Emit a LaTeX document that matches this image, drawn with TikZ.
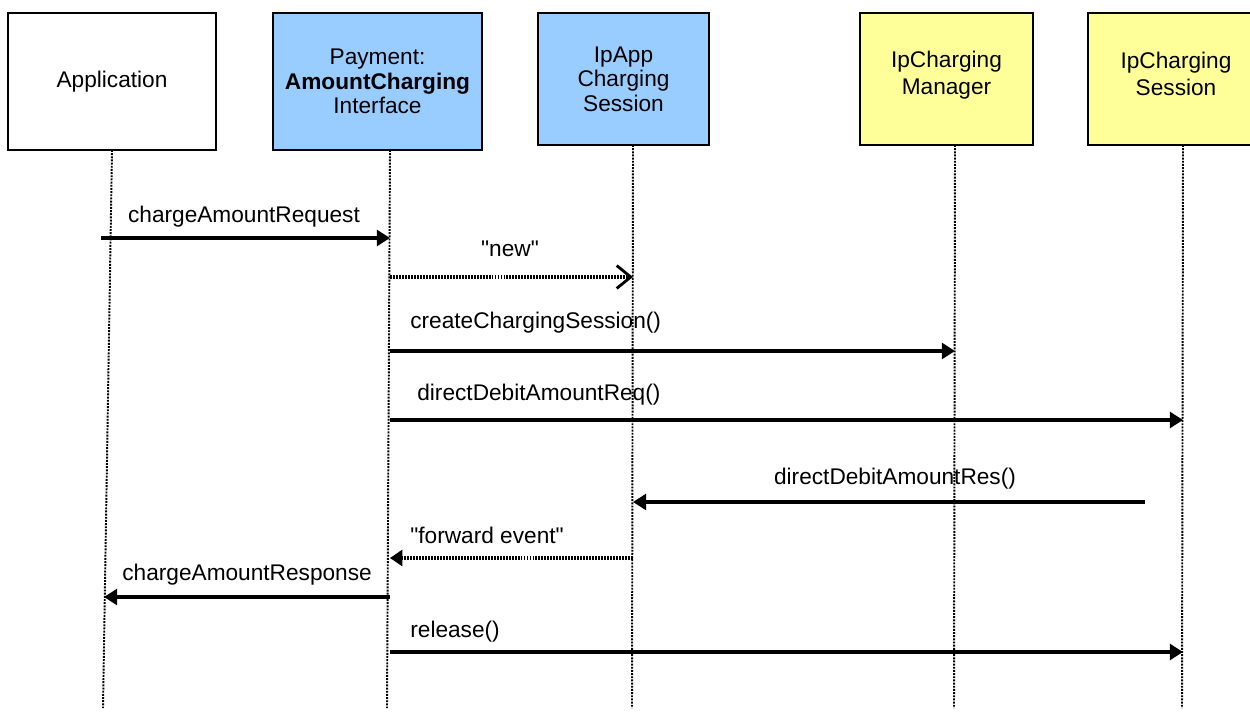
\documentclass[tikz,border=0pt]{standalone}
\usepackage{fontspec}
\setmainfont{Liberation Sans}[Ligatures=TeXOff]
\usetikzlibrary{arrows.meta}
\definecolor{ifblue}{HTML}{99CCFF}
\definecolor{ifyellow}{HTML}{FFFF99}

\begin{document}
\begin{tikzpicture}[x=0.02cm,y=-0.02cm,
  font=\fontsize{12.9}{14}\selectfont,
  objbox/.style={draw=black,line width=1pt,align=center,inner sep=0pt},
  lifeline/.style={line width=1.1pt,dash pattern=on 1.1pt off 0.7pt},
  call/.style={line width=2pt,-{Triangle[length=7.5pt,width=9pt]}},
  event/.style={line width=1.8pt,dash pattern=on 1.1pt off 0.6pt},
  msglabel/.style={inner sep=0pt}]
\useasboundingbox (0,0) rectangle (1250,722);
\node[objbox,fill=white,minimum width=4.16cm,minimum height=2.74cm] (app) at (112,81.5) {Application};
\node[objbox,fill=ifblue,minimum width=4.18cm,minimum height=2.74cm] (pay) at (377.5,81.5)
     {Payment:\\\textbf{AmountCharging}\\Interface};
\node[objbox,fill=ifblue,minimum width=3.42cm,minimum height=2.64cm] (ipapp) at (623.5,79)
     {IpApp\\Charging\\Session};
\node[objbox,fill=ifyellow,minimum width=3.46cm,minimum height=2.64cm] (mgr) at (946.5,79)
     {IpCharging\\[1pt]Manager\\[-7pt]};
\node[objbox,fill=ifyellow,minimum width=3.52cm,minimum height=2.64cm] (sess) at (1176,79)
     {IpCharging\\[1pt]Session\\[-8pt]};
\coordinate (app-top) at (112,150);
\coordinate (app-end) at (103,708);
\coordinate (pay-top) at (390,150);
\coordinate (pay-end) at (387,708);
\coordinate (ipapp-top) at (633,145);
\coordinate (ipapp-end) at (632,708);
\coordinate (mgr-top) at (955,145);
\coordinate (mgr-end) at (954,708);
\coordinate (sess-top) at (1183,145);
\coordinate (sess-end) at (1182,708);
\draw[lifeline] (app-top) -- (app-end);
\draw[lifeline] (pay-top) -- (pay-end);
\draw[lifeline] (ipapp-top) -- (ipapp-end);
\draw[lifeline] (mgr-top) -- (mgr-end);
\draw[lifeline] (sess-top) -- (sess-end);
\coordinate (req-start) at (101,238);
\coordinate (res-start) at (1145,502);
\coordinate (resp-end) at (104,597);
\draw[call] (req-start) -- (pay-top |- 0,238);
\node[msglabel,anchor=base] (req-lbl) at (244,223) {chargeAmountRequest};
\draw[event,-{Straight Barb[length=8pt,width=13pt,line width=1.6pt]}]
     (pay-top |- 0,277) -- (ipapp-top |- 0,277);
\node[msglabel,anchor=base] (new-lbl) at (510,257) {"new"};
\draw[call] (pay-top |- 0,351) -- (mgr-top |- 0,351);
\node[msglabel,anchor=base west] (create-lbl) at (410,329) {createChargingSession()};
\draw[call] (pay-top |- 0,420) -- (sess-top |- 0,420);
\node[msglabel,anchor=base west] (debreq-lbl) at (417,400) {directDebitAmountReq()};
\draw[call] (res-start) -- (ipapp-top |- 0,502);
\node[msglabel,anchor=base] (debres-lbl) at (895,484) {directDebitAmountRes()};
\draw[event,-{Triangle[length=7pt,width=9pt]}] (ipapp-top |- 0,558) -- (pay-top |- 0,558);
\node[msglabel,anchor=base west] (fwd-lbl) at (410,543) {"forward event"};
\draw[call] (pay-top |- 0,597) -- (resp-end);
\node[msglabel,anchor=base west] (resp-lbl) at (122,580) {chargeAmountResponse};
\draw[call] (pay-top |- 0,652) -- (sess-top |- 0,652);
\node[msglabel,anchor=base west] (rel-lbl) at (410,637) {release()};
\end{tikzpicture}
\end{document}
